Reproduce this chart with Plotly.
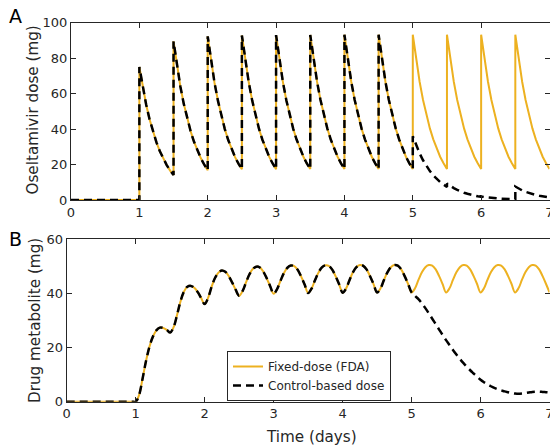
import plotly.graph_objects as go

# ---------------- data ----------------
# Panel A: oseltamivir dose (mg); each dosing segment is sampled every 0.05 day
dose_times = [1.0, 1.5, 2.0, 2.5, 3.0, 3.5, 4.0, 4.5, 5.0, 5.5, 6.0, 6.5]
step = 0.05

fixed_dose_segments = [
    [75.0, 63.5, 53.7, 45.4, 38.4, 32.5, 27.5, 23.3, 19.7, 16.6, 14.1],
    [89.5, 75.7, 64.0, 54.2, 45.8, 38.8, 32.8, 27.8, 23.5, 19.9, 16.8],
    [92.3, 78.1, 66.0, 55.9, 47.3, 40.0, 33.8, 28.6, 24.2, 20.5, 17.3],
    [92.8, 78.5, 66.4, 56.2, 47.5, 40.2, 34.0, 28.8, 24.3, 20.6, 17.4],
    [93.0, 78.7, 66.5, 56.3, 47.6, 40.3, 34.1, 28.8, 24.4, 20.6, 17.5],
    [93.1, 78.8, 66.6, 56.4, 47.7, 40.3, 34.1, 28.9, 24.4, 20.7, 17.5],
    [93.2, 78.8, 66.7, 56.4, 47.7, 40.4, 34.2, 28.9, 24.4, 20.7, 17.5],
    [93.2, 78.8, 66.7, 56.4, 47.7, 40.4, 34.2, 28.9, 24.4, 20.7, 17.5],
    [93.2, 78.8, 66.7, 56.4, 47.7, 40.4, 34.2, 28.9, 24.4, 20.7, 17.5],
    [93.2, 78.8, 66.7, 56.4, 47.7, 40.4, 34.2, 28.9, 24.4, 20.7, 17.5],
    [93.2, 78.8, 66.7, 56.4, 47.7, 40.4, 34.2, 28.9, 24.4, 20.7, 17.5],
    [93.2, 78.8, 66.7, 56.4, 47.7, 40.4, 34.2, 28.9, 24.4, 20.7, 17.5],
]
control_dose_segments = fixed_dose_segments[:8] + [
    [36.0, 30.8, 26.3, 22.4, 19.1, 16.3, 13.9, 11.9, 10.1, 8.7, 7.4],
    [9.3, 7.9, 6.7, 5.7, 4.8, 4.1, 3.5, 2.9, 2.5, 2.1, 1.8],
    [2.0, 1.7, 1.4, 1.2, 1.0, 0.85, 0.7, 0.6, 0.5, 0.45, 0.4],
    [7.6, 6.4, 5.4, 4.6, 3.9, 3.3, 2.8, 2.4, 2.0, 1.7, 1.45],
]
pre_dose_times = [0.0, 1.0]
pre_dose_values = [0.0, 0.0]

# Panel B: drug metabolite (mg), sampled every 0.05 day from day 0 to day 7
metab_start = 0.0
fixed_metab = [
    0.0, 0.0, 0.0, 0.0, 0.0, 0.0, 0.0, 0.0, 0.0, 0.0,
    0.0, 0.0, 0.0, 0.0, 0.0, 0.0, 0.0, 0.0, 0.0, 0.0,
    0.0, 2.5, 8.5, 15.0, 20.3, 24.0, 26.3, 27.3, 27.2, 26.5,
    25.5, 27.5, 32.0, 37.0, 40.6, 42.4, 42.7, 42.0, 40.4, 38.2,
    36.0, 38.3, 42.3, 45.6, 47.6, 48.4, 47.9, 46.3, 43.9, 41.3,
    39.1, 40.8, 44.0, 47.0, 49.0, 49.8, 49.5, 48.0, 45.5, 42.6,
    39.8, 41.5, 44.6, 47.5, 49.4, 50.2, 50.0, 48.6, 46.1, 43.2,
    40.1, 41.7, 44.8, 47.6, 49.5, 50.3, 50.1, 48.7, 46.2, 43.3,
    40.2, 41.7, 44.8, 47.7, 49.6, 50.4, 50.1, 48.7, 46.2, 43.3,
    40.3, 41.8, 44.9, 47.7, 49.6, 50.4, 50.2, 48.8, 46.3, 43.4,
    40.3, 41.8, 44.9, 47.7, 49.6, 50.4, 50.2, 48.8, 46.3, 43.4,
    40.3, 41.8, 44.9, 47.7, 49.6, 50.4, 50.2, 48.8, 46.3, 43.4,
    40.3, 41.8, 44.9, 47.7, 49.6, 50.4, 50.2, 48.8, 46.3, 43.4,
    40.3, 41.8, 44.9, 47.7, 49.6, 50.4, 50.2, 48.8, 46.3, 43.4,
    40.3,
]
control_metab_tail = [
    39.0, 37.8, 36.3, 34.5, 32.6, 30.6, 28.6, 26.6, 24.6, 22.7,
    20.9, 19.1, 17.4, 15.8, 14.3, 12.9, 11.6, 10.4, 9.2, 8.1,
    7.2, 6.4, 5.7, 5.1, 4.6, 4.2, 3.8, 3.5, 3.2, 3.0,
    2.9, 3.0, 3.2, 3.4, 3.6, 3.7, 3.7, 3.6, 3.5, 3.4,
]
control_switch_index = 100  # day 5.0 in the metabolite sampling

x_ticks = [0, 1, 2, 3, 4, 5, 6, 7]
dose_ticks = [0, 20, 40, 60, 80, 100]
metab_ticks = [0, 20, 40, 60]

# ---------------- build series ----------------
def build(segments):
    xs, ys = list(pre_dose_times), list(pre_dose_values)
    for t0, seg in zip(dose_times, segments):
        for i, v in enumerate(seg):
            xs.append(round(t0 + i * step, 4))
            ys.append(v)
    return xs, ys

fx, fy = build(fixed_dose_segments)
cx, cy = build(control_dose_segments)

mx = [round(metab_start + i * step, 4) for i in range(len(fixed_metab))]
my = fixed_metab
cmy = fixed_metab[:control_switch_index + 1] + control_metab_tail

ORANGE = "#EDB120"
AX = "#262626"
FONT = "DejaVu Sans"

fig = go.Figure()
fig.add_trace(go.Scatter(x=fx, y=fy, mode="lines", line=dict(color=ORANGE, width=2),
                         xaxis="x", yaxis="y", showlegend=False))
fig.add_trace(go.Scatter(x=cx, y=cy, mode="lines", line=dict(color="black", width=2.5, dash="8px,5px"),
                         xaxis="x", yaxis="y", showlegend=False))
fig.add_trace(go.Scatter(x=mx, y=my, mode="lines", name="Fixed-dose (FDA)",
                         line=dict(color=ORANGE, width=2, shape="spline"),
                         xaxis="x2", yaxis="y2"))
fig.add_trace(go.Scatter(x=mx, y=cmy, mode="lines", name="Control-based dose",
                         line=dict(color="black", width=2.5, dash="8px,5px", shape="spline"),
                         xaxis="x2", yaxis="y2"))

W, H = 550, 445
axis_common = dict(showline=True, linecolor=AX, linewidth=1, mirror="ticks", ticks="inside",
                   ticklen=5, tickcolor=AX, showgrid=False, zeroline=False,
                   ticklabeloverflow="allow",
                   tickfont=dict(family=FONT, size=13, color=AX))

fig.update_layout(
    width=W, height=H,
    margin=dict(l=0, r=0, t=0, b=0, autoexpand=False),
    paper_bgcolor="white", plot_bgcolor="white",
    font=dict(family=FONT, color=AX),
    xaxis=dict(domain=[71 / W, 549.5 / W], range=[0, 7], tickvals=x_ticks, anchor="y", **axis_common),
    yaxis=dict(domain=[1 - 200 / H, 1 - 22.7 / H], range=[0, 100], tickvals=dose_ticks, anchor="x", **axis_common),
    xaxis2=dict(domain=[66.7 / W, 549.5 / W], range=[0, 7], tickvals=x_ticks, anchor="y2", **axis_common),
    yaxis2=dict(domain=[1 - 401.7 / H, 1 - 239 / H], range=[0, 60], tickvals=metab_ticks, anchor="x2", **axis_common),
    legend=dict(x=227 / W, y=1 - 351 / H, xanchor="left", yanchor="top",
                bordercolor=AX, borderwidth=1, bgcolor="white", itemwidth=30,
                font=dict(family=FONT, size=12, color=AX), tracegroupgap=0),
    annotations=[
        dict(text="A", x=15.5 / W, y=1 - 16 / H, xref="paper", yref="paper", xanchor="center", yanchor="middle",
             showarrow=False, font=dict(family=FONT, size=19, color="black")),
        dict(text="B", x=15 / W, y=1 - 239 / H, xref="paper", yref="paper", xanchor="center", yanchor="middle",
             showarrow=False, font=dict(family=FONT, size=19, color="black")),
        dict(text="Oseltamivir dose (mg)", x=32.5 / W, y=1 - 110 / H, xref="paper", yref="paper",
             xanchor="center", yanchor="middle",
             textangle=-90, showarrow=False, font=dict(family=FONT, size=15.2, color=AX)),
        dict(text="Drug metabolite (mg)", x=35 / W, y=1 - 320 / H, xref="paper", yref="paper",
             xanchor="center", yanchor="middle",
             textangle=-90, showarrow=False, font=dict(family=FONT, size=15.2, color=AX)),
        dict(text="Time (days)", x=311 / W, y=1 - 436.5 / H, xref="paper", yref="paper",
             xanchor="center", yanchor="middle",
             showarrow=False, font=dict(family=FONT, size=15.2, color=AX)),
    ],
)

page_fix = (
    "document.documentElement.style.margin='0';"
    "document.documentElement.style.padding='0';"
    "document.documentElement.style.overflow='hidden';"
    "document.body.style.margin='0';"
    "document.body.style.padding='0';"
    "document.body.style.overflow='hidden';"
    "var d=document.getElementById('{plot_id}');"
    "d.style.position='fixed';d.style.left='0px';d.style.top='0px';"
)
fig.write_html("out.html", config={"displayModeBar": False}, post_script=page_fix)
